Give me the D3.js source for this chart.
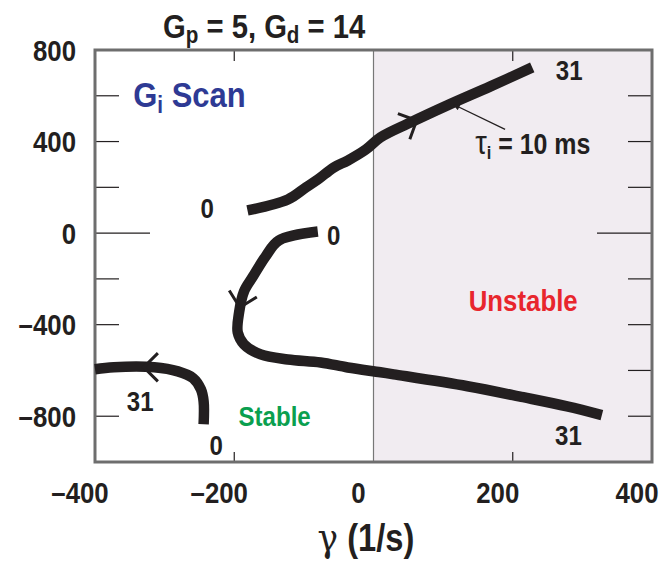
<!DOCTYPE html>
<html>
<head>
<meta charset="utf-8">
<script src="https://cdn.jsdelivr.net/npm/d3@7"></script>
<style>
  body { margin: 0; background: #fff; }
  text { font-family: "Liberation Sans Narrow", "Arial Narrow", "Liberation Sans", sans-serif; font-weight: bold; fill: #231f20; }
</style>
</head>
<body>
<svg id="chart" width="665" height="562"></svg>
<script>
// axis ticks
var xTicks = [-400, -200, 0, 200, 400];
var yTicks = [600, 400, 200, 0, -200, -400, -600, -800];
var yLabels = [800, 400, 0, -400, -800];

// root locus branches, [gamma (1/s), omega]
var branchUpper = [[-181, 99], [-123, 147], [-97, 200], [-80, 234], [-57, 287], [-37, 317],
  [-11, 365], [10, 418], [53, 483], [106, 558], [168, 641], [228, 724]];
var branchMiddle = [[-80, 7], [-136, -32], [-155, -102], [-173, -189], [-186, -255], [-193, -346],
  [-195, -434], [-186, -486], [-162, -530], [-123, -552], [-76, -565], [-37, -587], [10, -608],
  [29, -617], [135, -669], [215, -717], [278, -757], [328, -795]];
var branchLower = [[-244, -835], [-244, -735], [-248, -682], [-259, -634], [-281, -604],
  [-315, -586], [-373, -586], [-400, -595]];
var branches = [branchUpper, branchMiddle, branchLower];

// direction markers: [branch, gamma, omega]
var chevrons = [[0, 62, 492], [1, -192, -325], [2, -330, -586]];

// gain labels at branch ends: [text, gamma, omega]
var endLabels = [["0", -239, 112], ["31", 281, 714], ["0", -57, -10], ["31", 280, -883],
  ["31", -335, -735], ["0", -226, -927]];

var svg = d3.select('#chart');
var pL = 95, pR = 652, pT = 50, pB = 462;
var sx = 0.86; // squeeze text horizontally, the original uses a condensed face

var x = d3.scaleLinear().domain([-400, 400]).range([pL, pR]);
var y = d3.scaleLinear().domain([-1000, 800]).range([pB, pT]);

function narrow(sel, px) {
  return sel.attr('transform', 'scale(' + sx + ',1)').attr('x', px / sx);
}

// unstable half plane
svg.append('rect')
  .attr('x', x(0)).attr('y', y(800))
  .attr('width', x(400) - x(0)).attr('height', y(-1000) - y(800))
  .attr('fill', '#f1ecf1');
svg.append('line')
  .attr('x1', x(0)).attr('x2', x(0)).attr('y1', y(800)).attr('y2', y(-1000))
  .attr('stroke', '#777').attr('stroke-width', 1.2);

// inner ticks
var tk = svg.append('g').attr('stroke', '#231f20').attr('stroke-width', 1.2);
[-200, 200].forEach(function(v) {
  tk.append('line').attr('x1', x(v)).attr('x2', x(v)).attr('y1', pT).attr('y2', pT + 11);
  tk.append('line').attr('x1', x(v)).attr('x2', x(v)).attr('y1', pB).attr('y2', pB - 10);
});
yTicks.forEach(function(v) {
  var len = v === 0 ? 55 : 24;
  tk.append('line').attr('x1', pL).attr('x2', pL + len).attr('y1', y(v)).attr('y2', y(v));
  tk.append('line').attr('x1', pR).attr('x2', pR - len).attr('y1', y(v)).attr('y2', y(v));
});

// frame
svg.append('rect')
  .attr('x', pL).attr('y', pT)
  .attr('width', pR - pL).attr('height', pB - pT)
  .attr('fill', 'none').attr('stroke', '#6e6e6e').attr('stroke-width', 3);

function fmt(d) { return d < 0 ? '\u2013' + Math.abs(d) : String(d); }

// tick labels
svg.append('g').selectAll('text').data(xTicks).enter().append('text')
  .each(function(d) { narrow(d3.select(this), x(d) - 15); })
  .attr('y', 503)
  .attr('text-anchor', 'middle')
  .style('font-size', '30px')
  .text(fmt);

svg.append('g').selectAll('text').data(yLabels).enter().append('text')
  .each(function() { narrow(d3.select(this), 76); })
  .attr('y', function(d) { return y(d); })
  .attr('dy', '0.36em')
  .attr('text-anchor', 'end')
  .style('font-size', '30px')
  .text(fmt);

// branches
var line = d3.line()
  .x(function(d) { return x(d[0]); })
  .y(function(d) { return y(d[1]); })
  .curve(d3.curveCatmullRom);

svg.append('g').selectAll('path').data(branches).enter().append('path')
  .attr('d', line)
  .attr('fill', 'none')
  .attr('stroke', '#231f20')
  .attr('stroke-width', 10.5)
  .attr('stroke-linejoin', 'round');

// chevrons pointing along the branch
function direction(pts, px, py) {
  var best = null, bestD = Infinity;
  for (var i = 0; i < pts.length - 1; i++) {
    var ax = x(pts[i][0]), ay = y(pts[i][1]), bx = x(pts[i + 1][0]), by = y(pts[i + 1][1]);
    var mx = (ax + bx) / 2, my = (ay + by) / 2;
    var dd = (mx - px) * (mx - px) + (my - py) * (my - py);
    if (dd < bestD) { bestD = dd; best = [bx - ax, by - ay]; }
  }
  var n = Math.sqrt(best[0] * best[0] + best[1] * best[1]);
  return [best[0] / n, best[1] / n];
}

svg.append('g').selectAll('path').data(chevrons).enter().append('path')
  .attr('d', function(c) {
    var px = x(c[1]), py = y(c[2]);
    var dir = direction(branches[c[0]], px, py);
    var back = Math.atan2(-dir[1], -dir[0]), a = Math.PI / 4, L = 20;
    return 'M' + (px + L * Math.cos(back + a)) + ',' + (py + L * Math.sin(back + a)) +
      'L' + px + ',' + py +
      'L' + (px + L * Math.cos(back - a)) + ',' + (py + L * Math.sin(back - a));
  })
  .attr('fill', 'none')
  .attr('stroke', '#231f20')
  .attr('stroke-width', 3);

// gain labels
svg.append('g').selectAll('text').data(endLabels).enter().append('text')
  .each(function(d) { narrow(d3.select(this), x(d[1])); })
  .attr('y', function(d) { return y(d[2]); })
  .attr('dy', '0.36em')
  .attr('text-anchor', 'middle')
  .style('font-size', '28px')
  .text(function(d) { return d[0]; });

// region labels
narrow(svg.append('text'), x(215)).attr('y', y(-295)).attr('dy', '0.36em')
  .attr('text-anchor', 'middle').style('font-size', '30px').style('fill', '#e8262d').text('Unstable');
narrow(svg.append('text'), x(-142)).attr('y', y(-800)).attr('dy', '0.36em')
  .attr('text-anchor', 'middle').style('font-size', '28px').style('fill', '#0a9f4f').text('Stable');

// scan label
var gi = narrow(svg.append('text'), x(-345)).attr('y', y(553))
  .style('font-size', '36px').style('fill', '#2e3a94');
gi.append('tspan').text('G');
gi.append('tspan').attr('dy', 6).style('font-size', '24px').text('i');
gi.append('tspan').attr('dy', -6).text(' Scan');

// tau annotation with arrow
svg.append('defs').append('marker')
  .attr('id', 'head').attr('viewBox', '0 0 10 10').attr('refX', 9).attr('refY', 5)
  .attr('markerWidth', 10).attr('markerHeight', 7).attr('orient', 'auto')
  .attr('markerUnits', 'userSpaceOnUse')
  .append('path').attr('d', 'M0,0L10,5L0,10z').attr('fill', '#231f20');
svg.append('line')
  .attr('x1', x(189)).attr('y1', y(453))
  .attr('x2', x(115)).attr('y2', y(562))
  .attr('stroke', '#231f20').attr('stroke-width', 1.3)
  .attr('marker-end', 'url(#head)');

var tau = narrow(svg.append('text'), x(146)).attr('y', y(344)).style('font-size', '29px');
tau.append('tspan').style('font-family', 'Liberation Sans').style('font-weight', 'normal').style('font-size', '34px').text('\u03c4');
tau.append('tspan').attr('dy', 5).style('font-size', '19px').text('i');
tau.append('tspan').attr('dy', -5).text(' = 10 ms');

// title
var title = narrow(svg.append('text'), 163).attr('y', 38).style('font-size', '34px');
title.append('tspan').text('G');
title.append('tspan').attr('dy', 5).style('font-size', '24px').text('p');
title.append('tspan').attr('dy', -5).text(' = 5, G');
title.append('tspan').attr('dy', 5).style('font-size', '24px').text('d');
title.append('tspan').attr('dy', -5).text(' = 14');

// x axis title
var xt = narrow(svg.append('text'), 366).attr('y', 551).attr('text-anchor', 'middle').style('font-size', '38px');
xt.append('tspan').style('font-family', 'DejaVu Serif').style('font-weight', 'normal').style('font-size', '40px').text('\u03b3');
xt.append('tspan').text('  (1/s)');
</script>
</body>
</html>
